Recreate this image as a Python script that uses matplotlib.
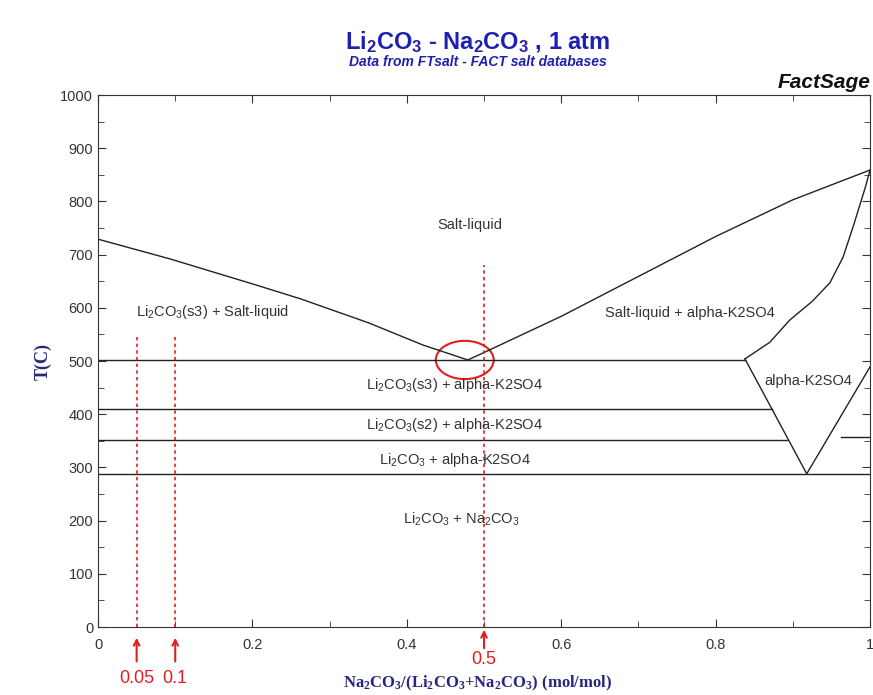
import matplotlib
matplotlib.use("Agg")
import matplotlib.pyplot as plt
from matplotlib.patches import Ellipse
from matplotlib.ticker import MultipleLocator

plt.rcParams['font.family'] = ['Liberation Sans', 'DejaVu Sans']
plt.rcParams['mathtext.default'] = 'regular'

# liquidus, Li2CO3 side
liq_left_x = [0.0, 0.093, 0.2, 0.262, 0.35, 0.421, 0.479]
liq_left_t = [729, 692, 645, 617, 572, 530, 502]
# liquidus, Na2CO3 side
liq_right_x = [0.479, 0.5, 0.6, 0.7, 0.8, 0.9, 1.0]
liq_right_t = [502, 516, 584, 659, 734, 803, 859]
# solidus of alpha-K2SO4 solid solution
sol_x = [0.838, 0.87, 0.896, 0.925, 0.948, 0.965, 0.978, 0.994, 1.0]
sol_t = [504, 535, 577, 612, 647, 695, 752, 827, 859]
# solvus lines
solv_left_x = [0.838, 0.918]
solv_left_t = [504, 288]
solv_right_x = [0.918, 1.0]
solv_right_t = [288, 489]

# horizontal invariants: (T, x start, x end)
invariants = [(502, 0.0, 0.838), (410, 0.0, 0.873), (351, 0.0, 0.893),
              (288, 0.0, 1.0), (358, 0.962, 1.0)]

x_ticks = [0, 0.2, 0.4, 0.6, 0.8, 1.0]
x_ticklabels = ['0', '0.2', '0.4', '0.6', '0.8', '1']

# red marks
marked_x = [0.05, 0.1, 0.5]
marked_top = [545, 545, 680]
marked_lbl = ['0.05', '0.1', '0.5']

regions = [
    ('Salt-liquid', 0.482, 755),
    ('Li$_2$CO$_3$(s3) + Salt-liquid', 0.148, 592),
    ('Salt-liquid + alpha-K2SO4', 0.767, 590),
    ('Li$_2$CO$_3$(s3) + alpha-K2SO4', 0.462, 455),
    ('alpha-K2SO4', 0.92, 462),
    ('Li$_2$CO$_3$(s2) + alpha-K2SO4', 0.462, 380),
    ('Li$_2$CO$_3$ + alpha-K2SO4', 0.462, 314),
    ('Li$_2$CO$_3$ + Na$_2$CO$_3$', 0.47, 203),
]

fig = plt.figure(figsize=(8.73, 6.95), dpi=100)
ax = fig.add_axes([0.1123, 0.0978, 0.8843, 0.7655])

lc = '#222222'
ax.plot(liq_left_x, liq_left_t, color=lc, lw=1)
ax.plot(liq_right_x, liq_right_t, color=lc, lw=1)
ax.plot(sol_x, sol_t, color=lc, lw=1)
ax.plot(solv_left_x, solv_left_t, color=lc, lw=1)
ax.plot(solv_right_x, solv_right_t, color=lc, lw=1)
for t, x0, x1 in invariants:
    ax.plot([x0, x1], [t, t], color=lc, lw=1)

for txt, x, t in regions:
    ax.text(x, t, txt, ha='center', va='center', fontsize=10.5, color='#333333')

for x, top in zip(marked_x, marked_top):
    ax.plot([x, x], [0, top], color='#e02020', lw=1.2, ls=(0, (2, 2)))

ax.add_patch(Ellipse((0.475, 502), 0.075, 72, fill=False, edgecolor='#e02020', lw=1.5))

for x, lbl in zip(marked_x, marked_lbl):
    if lbl == '0.5':
        ax.annotate('', xy=(x, 0), xytext=(x, -45), xycoords='data',
                    arrowprops=dict(arrowstyle='->', color='#e02020', lw=1.5),
                    annotation_clip=False)
        ax.text(x, -45, lbl, ha='center', va='top', color='#e02020', fontsize=13, clip_on=False)
    else:
        ax.annotate('', xy=(x, -15), xytext=(x, -70), xycoords='data',
                    arrowprops=dict(arrowstyle='->', color='#e02020', lw=1.5),
                    annotation_clip=False)
        ax.text(x, -80, lbl, ha='center', va='top', color='#e02020', fontsize=13, clip_on=False)

ax.set_xlim(0, 1)
ax.set_ylim(0, 1000)
ax.set_xticks(x_ticks)
ax.set_xticklabels(x_ticklabels)
ax.xaxis.set_minor_locator(MultipleLocator(0.1))
ax.yaxis.set_major_locator(MultipleLocator(100))
ax.yaxis.set_minor_locator(MultipleLocator(50))
ax.tick_params(which='both', direction='in', top=True, right=True, color='#333333', labelsize=10.5, labelcolor='#333333')
ax.tick_params(which='major', length=6)
ax.tick_params(which='minor', length=4)
ax.tick_params(axis='x', pad=8)
for s in ax.spines.values():
    s.set_color('#333333')

ax.set_ylabel('T(C)', family='Liberation Serif', fontweight='bold', color='#262680', fontsize=13, labelpad=6)
fig.text(0.547, 0.017, 'Na$_2$CO$_3$/(Li$_2$CO$_3$+Na$_2$CO$_3$) (mol/mol)', family='Liberation Serif',
         fontweight='bold', color='#262680', fontsize=12, ha='center', va='center')

fig.text(0.547, 0.94, 'Li$_2$CO$_3$ - Na$_2$CO$_3$ , 1 atm', ha='center', va='center',
         fontsize=17, fontweight='bold', color='#2020b0')
fig.text(0.547, 0.911, 'Data from FTsalt - FACT salt databases', ha='center', va='center',
         fontsize=10, fontweight='bold', style='italic', color='#2020b0')
fig.text(0.997, 0.882, 'FactSage', ha='right', va='center', fontsize=15,
         fontweight='bold', style='italic', color='#111111')

fig.savefig('out.png', dpi=100)
